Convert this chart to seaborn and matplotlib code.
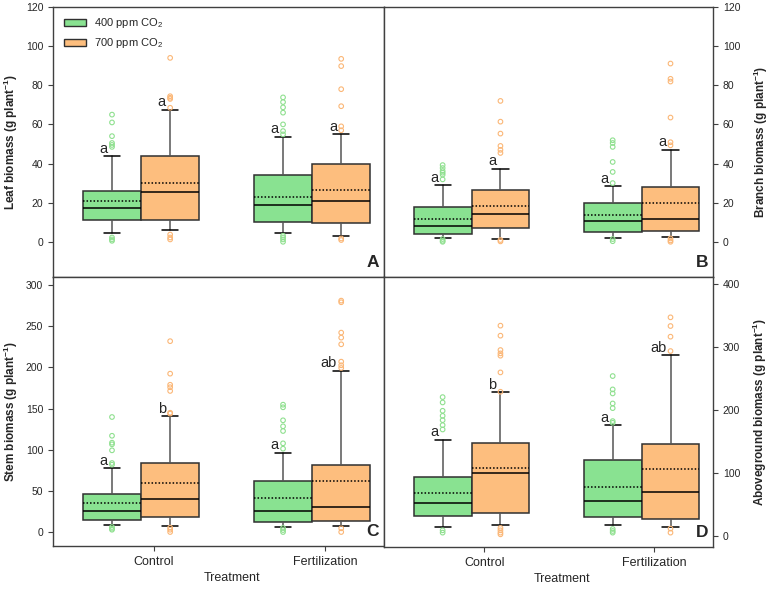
import matplotlib
matplotlib.use("Agg")
import numpy as np
import pandas as pd
import matplotlib.pyplot as plt
from matplotlib.patches import Patch
import seaborn as sns


# box order in every list: Control 400, Control 700, Fertilization 400, Fertilization 700
treatments = ["Control", "Fertilization"]
co2_levels = ["400 ppm CO$_2$", "700 ppm CO$_2$"]

# leaf biomass
leaf_whislo = [4.3, 6.0, 4.6, 3.2]
leaf_q1 = [11.2, 11.2, 9.9, 9.5]
leaf_med = [17.4, 25.4, 18.6, 20.6]
leaf_q3 = [26.2, 44.0, 34.2, 40.0]
leaf_whishi = [43.8, 67.6, 53.7, 54.9]
leaf_mean = [20.8, 30.0, 23.0, 26.4]
leaf_fliers = [
    [65, 61, 54, 50.5, 49.5, 48.5, 2.2, 1.2, 0.5],
    [94, 74.4, 73.6, 73, 68.5, 3.7, 2.2, 1.2],
    [73.8, 71.4, 68.7, 66, 60, 56.6, 54.9, 3.1, 2.2, 1.2, 0.0],
    [93.5, 89.8, 78, 69.3, 59, 57, 1.7, 0.9],
]
leaf_letters = ["a", "a", "a", "a"]

# branch biomass
branch_whislo = [2.0, 1.5, 2.0, 2.6]
branch_q1 = [3.9, 6.8, 5.1, 5.3]
branch_med = [8.2, 14.3, 10.4, 11.8]
branch_q3 = [17.7, 26.6, 19.8, 28.2]
branch_whishi = [28.8, 37.4, 28.5, 47.1]
branch_mean = [11.8, 18.4, 13.7, 20.0]
branch_fliers = [
    [39.2, 37.7, 36.2, 35.3, 34.3, 31.9, 1.4, 0.5, 0.0],
    [72, 61.4, 55.3, 49, 47, 45.4, 0.9, 0.2],
    [51.9, 50.5, 48.5, 40.8, 35.7, 30, 1.4, 0.3],
    [91.1, 83.3, 81.9, 63.5, 50.9, 49.3, 1.7, 0.7, 0.0],
]
branch_letters = ["a", "a", "a", "a"]

# stem biomass
stem_whislo = [8.1, 6.9, 6.1, 7.3]
stem_q1 = [14.2, 18.2, 12.2, 13.0]
stem_med = [25.9, 40.1, 25.9, 30.0]
stem_q3 = [46.2, 83.9, 62.4, 81.9]
stem_whishi = [77.4, 141.0, 96.5, 196.2]
stem_mean = [35.7, 59.2, 40.9, 62.0]
stem_fliers = [
    [139.8, 117, 108.6, 106.6, 99.3, 83.9, 81.9, 6.1, 4.1, 2.8],
    [232, 192.5, 179, 176, 171.5, 145, 143.9, 5.3, 2.8, 0.0],
    [154.8, 151.6, 135.8, 128.5, 122.8, 107.8, 101.3, 4.9, 2.4, 0.0],
    [281.3, 279.3, 242.4, 236.3, 228.2, 207.1, 202.7, 199.4, 4.5, 0.0],
]
stem_letters = ["a", "b", "a", "ab"]

# aboveground biomass
above_whislo = [14.3, 18.0, 18.0, 14.8]
above_q1 = [32.3, 36.6, 30.2, 26.5]
above_med = [53.0, 100.1, 55.1, 70.5]
above_q3 = [94.3, 146.8, 120.8, 146.2]
above_whishi = [153.1, 227.8, 175.4, 287.2]
above_mean = [68.3, 108.6, 77.4, 106.5]
above_fliers = [
    [220.4, 211.9, 198.7, 190.7, 183.8, 175.9, 169, 9, 5.3],
    [333.8, 317.9, 295.1, 289.8, 286.1, 259.6, 228.9, 12.7, 9, 5.3, 2.6],
    [253.8, 232.6, 226.2, 210.3, 202.9, 182.3, 179.6, 11.1, 7.9, 5.3],
    [347, 333.2, 316.3, 293.5, 11.7, 5.3],
]
above_letters = ["a", "b", "a", "ab"]

BOX_COLORS = ["#89E291", "#FDBE7E"]
FLIER_COLORS = ["#8FE08F", "#FBB777"]
EDGE = "#303030"

sns.set_style("ticks")
plt.rcParams["font.family"] = ["Liberation Sans", "DejaVu Sans"]
plt.rcParams["mathtext.fontset"] = "custom"
plt.rcParams["mathtext.rm"] = "Liberation Sans"
plt.rcParams["mathtext.bf"] = "Liberation Sans:bold"
plt.rcParams["mathtext.default"] = "regular"


def draw_panel(ax, whislo, q1, med, q3, whishi, mean, fliers, letters,
               ylabel, yticks, ylim, letter, right=False, bottom=False):
    offsets = [-0.17, 0.17]
    width = 0.34
    for i in range(4):
        g, c = divmod(i, 2)
        pos = g + 1 + offsets[c]
        stats = [dict(whislo=whislo[i], q1=q1[i], med=med[i], q3=q3[i],
                      whishi=whishi[i], mean=mean[i], fliers=[])]
        ax.bxp(stats, positions=[pos], widths=width, capwidths=0.095,
               patch_artist=True, showmeans=True, meanline=True,
               showfliers=False, manage_ticks=False,
               boxprops=dict(facecolor=BOX_COLORS[c], edgecolor=EDGE, linewidth=1.1),
               medianprops=dict(color="black", linewidth=1.1),
               meanprops=dict(color="black", linestyle=(0, (1, 1.3)), linewidth=1.1),
               whiskerprops=dict(color="#555555", linewidth=1.1),
               capprops=dict(color="black", linewidth=1.1))
        fl = pd.DataFrame({"x": [pos] * len(fliers[i]), "y": fliers[i]})
        sns.scatterplot(data=fl, x="x", y="y", ax=ax, marker="o", s=11,
                        facecolor="none", edgecolor=FLIER_COLORS[c],
                        linewidth=0.8, legend=False, zorder=3)
        ax.annotate(letters[i], xy=(pos, whishi[i]), xytext=(-3, 0.3),
                    textcoords="offset points", ha="right", va="bottom",
                    fontsize=10.5)

    ax.set_xlim(0.485, 2.42)
    ax.set_ylim(*ylim)
    ax.set_yticks(yticks)
    ax.set_xticks([1.075, 2.075])
    if bottom:
        ax.set_xticklabels(treatments, fontsize=9)
        ax.set_xlabel("Treatment", fontsize=9, x=0.54, labelpad=3)
    else:
        ax.set_xticklabels([])
        ax.set_xlabel("")
    ax.set_ylabel(ylabel, fontsize=8.5, fontweight="bold")
    if right:
        ax.yaxis.tick_right()
        ax.yaxis.set_label_position("right")
        ax.yaxis.labelpad = 8
    ax.tick_params(axis="y", labelsize=7.5)
    ax.tick_params(length=3.5, width=0.8, color="#404040", direction="out")
    for s in ax.spines.values():
        s.set_visible(True)
        s.set_color("#404040")
        s.set_linewidth(1.0)
    ax.text(0.985, 0.025, letter, transform=ax.transAxes, ha="right",
            va="bottom", fontsize=12.5, fontweight="bold")


fig = plt.figure(figsize=(7.69, 5.89), dpi=100)
axA = fig.add_axes([0.0689, 0.5297, 0.4304, 0.4584])
axB = fig.add_axes([0.4993, 0.5297, 0.4279, 0.4584])
axC = fig.add_axes([0.0689, 0.0730, 0.4304, 0.4567])
axD = fig.add_axes([0.4993, 0.0713, 0.4279, 0.4584])

unit = r" (g plant$^{\mathbf{-1}}$)"
draw_panel(axA, leaf_whislo, leaf_q1, leaf_med, leaf_q3, leaf_whishi, leaf_mean,
           leaf_fliers, leaf_letters, "Leaf biomass" + unit,
           np.arange(0, 121, 20), (-18, 120), "A")
draw_panel(axB, branch_whislo, branch_q1, branch_med, branch_q3, branch_whishi,
           branch_mean, branch_fliers, branch_letters, "Branch biomass" + unit,
           np.arange(0, 121, 20), (-18, 120), "B", right=True)
draw_panel(axC, stem_whislo, stem_q1, stem_med, stem_q3, stem_whishi, stem_mean,
           stem_fliers, stem_letters, "Stem biomass" + unit,
           np.arange(0, 301, 50), (-17, 310), "C", bottom=True)
draw_panel(axD, above_whislo, above_q1, above_med, above_q3, above_whishi,
           above_mean, above_fliers, above_letters, "Aboveground biomass" + unit,
           np.arange(0, 401, 100), (-17.5, 411), "D", right=True, bottom=True)

handles = [Patch(facecolor=BOX_COLORS[k], edgecolor=EDGE, linewidth=1.0,
                 label=co2_levels[k]) for k in range(2)]
axA.legend(handles=handles, loc="upper left", frameon=False, fontsize=8,
           handlelength=2.0, handleheight=0.55, labelspacing=0.55,
           borderaxespad=0.3, handletextpad=0.7, bbox_to_anchor=(0.01, 0.995))

fig.savefig("out.png", dpi=100)
